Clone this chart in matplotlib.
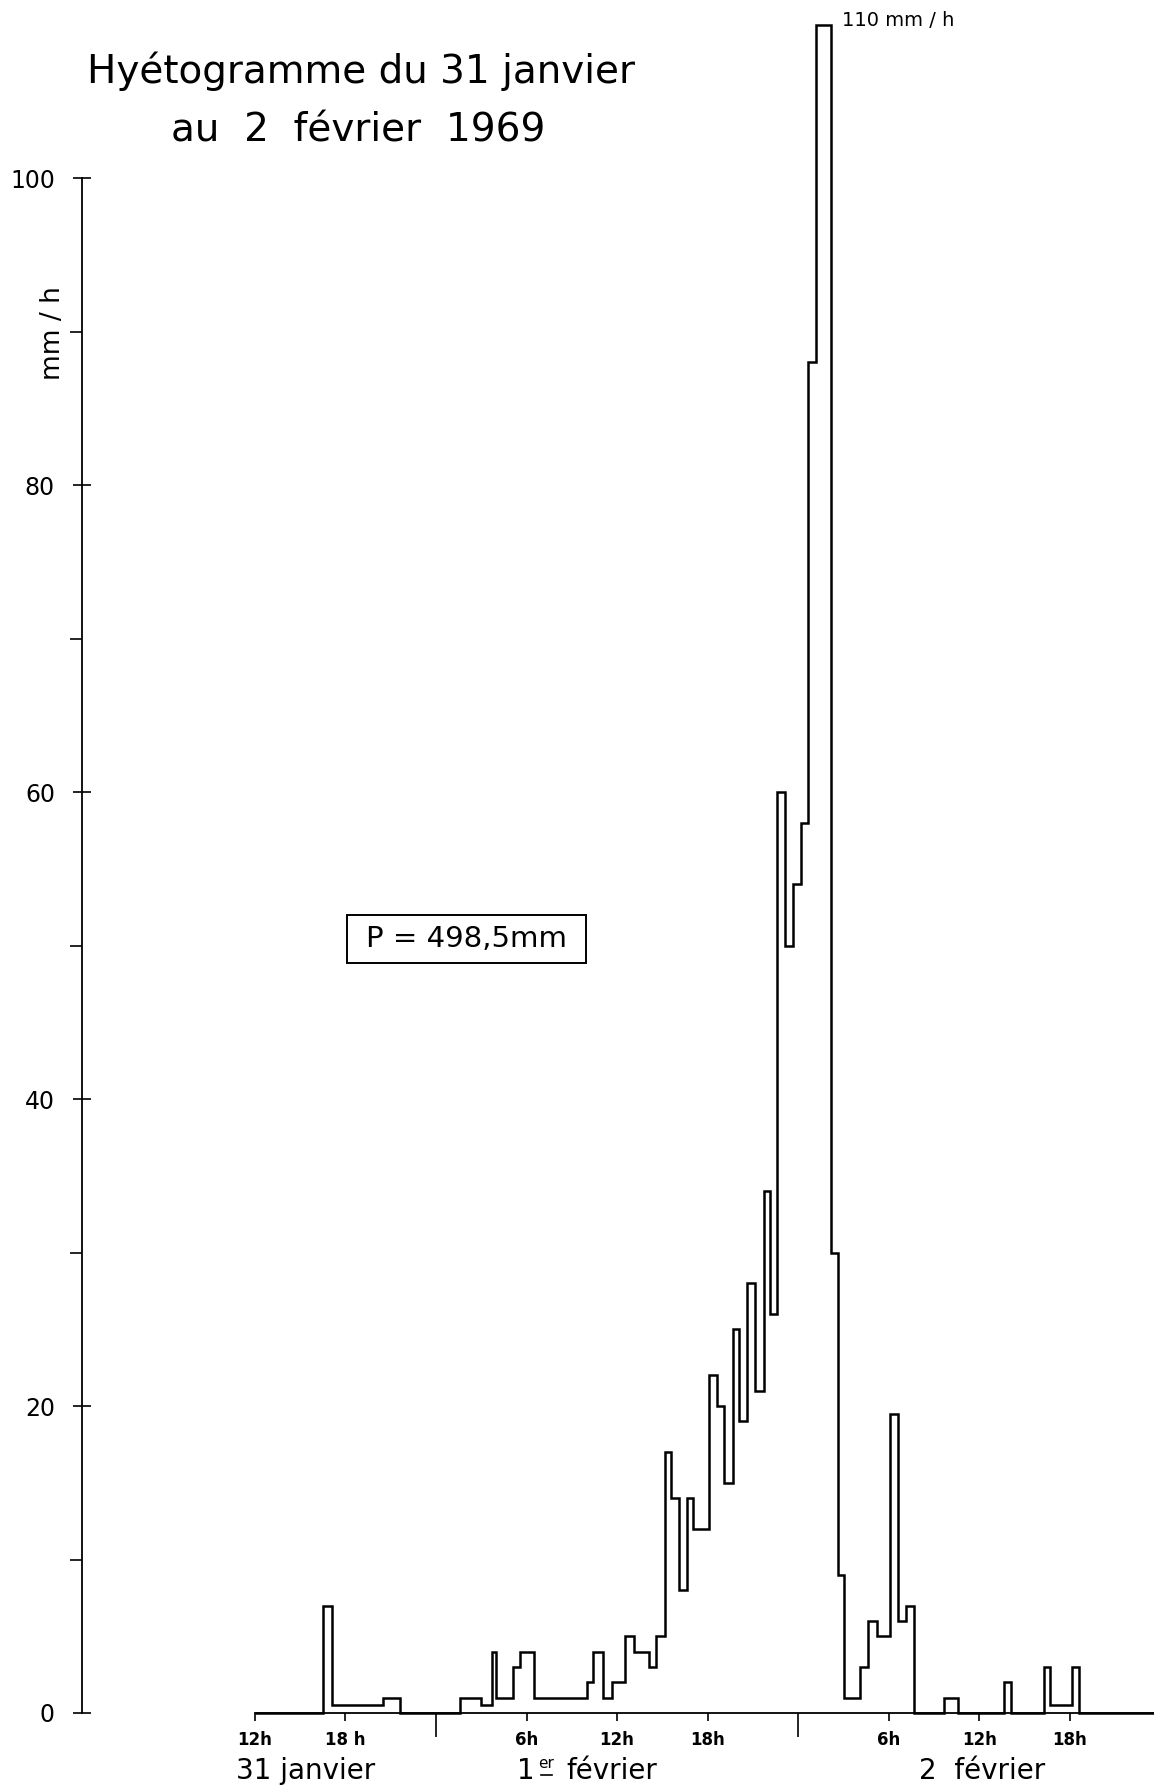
import matplotlib
matplotlib.use("Agg")
import matplotlib.pyplot as plt
import numpy as np
from matplotlib.patches import Rectangle
from matplotlib.lines import Line2D

plt.rcParams["font.family"] = ["DejaVu Sans"]

# hours counted from 31 janvier 0h ; intensity in mm/h for each step
t_start = [12.0, 16.5, 17.1, 20.5, 21.6, 25.6, 27.0, 27.7, 28.0, 29.1,
           29.55, 30.5, 34.0, 34.4, 35.05, 35.65, 36.55, 37.1, 38.1, 38.6,
           39.15, 39.6, 40.1, 40.6, 41.05, 42.1, 42.6, 43.1, 43.7, 44.1,
           44.6, 45.15, 45.7, 46.1, 46.6, 47.15, 47.65, 48.15, 48.65, 49.2,
           50.2, 50.65, 51.05, 52.1, 52.6, 53.2, 54.1, 54.6, 55.15, 55.65,
           57.65, 58.6, 61.6, 62.1, 64.25, 64.7, 66.15, 66.6]
intensity = [0, 7, 0.5, 1, 0, 1, 0.5, 4, 1, 3,
             4, 1, 2, 4, 1, 2, 5, 4, 3, 5,
             17, 14, 8, 14, 12, 22, 20, 15, 25, 19,
             28, 21, 34, 26, 60, 50, 54, 58, 88, 110,
             30, 9, 1, 3, 6, 5, 19.5, 6, 7, 0,
             1, 0, 2, 0, 3, 0.5, 3, 0]
t_end = 71.56

hour_ticks = [12, 18, 30, 36, 42, 54, 60, 66]
hour_labels = ["12h", "18 h", "6h", "12h", "18h", "6h", "12h", "18h"]
midnight_ticks = [24, 48]
y_major = [0, 20, 40, 60, 80, 100]
y_minor = [10, 30, 50, 70, 90]

W, H = 1154, 1787
fig = plt.figure(figsize=(W / 100, H / 100), dpi=100)
fig.patch.set_facecolor("white")

ax = fig.add_axes([82 / W, (H - 1713) / H, 1 - 82 / W, 1713 / H])
ax.set_xlim(0.56, t_end)
ax.set_ylim(0, 111.6)
ax.patch.set_visible(False)

ax.stairs(intensity, t_start + [t_end], baseline=None, color="black", lw=1.8, clip_on=False)

for s in ["top", "right"]:
    ax.spines[s].set_visible(False)
ax.spines["left"].set_bounds(0, 100)
ax.spines["bottom"].set_bounds(12, t_end)
ax.spines["left"].set_linewidth(1.3)
ax.spines["bottom"].set_linewidth(1.3)

ax.set_yticks(y_major)
ax.set_yticks(y_minor, minor=True)
ax.set_yticklabels([str(v) for v in y_major])
ax.tick_params(axis="y", which="major", direction="inout", length=13, width=1.2,
               labelsize=17, pad=13)
ax.tick_params(axis="y", which="minor", direction="out", length=9, width=1.2)

ax.set_xticks(hour_ticks)
ax.set_xticklabels(hour_labels, fontweight="bold")
ax.set_xticks(midnight_ticks, minor=True)
ax.tick_params(axis="x", which="major", direction="out", length=6, width=1.2,
               labelsize=12, pad=7)
ax.tick_params(axis="x", which="minor", direction="out", length=17, width=1.2)

# titles and annotations
fig.text(361 / W, 1 - 83 / H, "Hyétogramme du 31 janvier", ha="center", va="baseline", fontsize=28)
fig.text(358 / W, 1 - 142 / H, "au  2  février  1969", ha="center", va="baseline", fontsize=28)
fig.text(53 / W, 1 - 333 / H, "mm / h", rotation=90, ha="center", va="center", fontsize=19)
fig.text(842 / W, 1 - 20 / H, "110 mm / h", ha="left", va="center", fontsize=14)

fig.add_artist(Rectangle((347 / W, 1 - 963 / H), (586 - 347) / W, 48 / H,
                         transform=fig.transFigure, fill=False, lw=1.4, ec="black"))
fig.text(466 / W, 1 - 939 / H, "P = 498,5mm", ha="center", va="center", fontsize=21)

# day names under the time axis
fig.text(306 / W, 1 - 1779 / H, "31 janvier", ha="center", va="baseline", fontsize=20)
fig.text(517 / W, 1 - 1779 / H, "1", ha="left", va="baseline", fontsize=20)
fig.text(538 / W, 1 - 1768 / H, "er", ha="left", va="baseline", fontsize=11)
fig.add_artist(Line2D([541 / W, 552 / W], [1 - 1775 / H, 1 - 1775 / H],
                      transform=fig.transFigure, color="black", lw=1.2))
fig.text(566 / W, 1 - 1779 / H, "février", ha="left", va="baseline", fontsize=20)
fig.text(982 / W, 1 - 1779 / H, "2  février", ha="center", va="baseline", fontsize=20)

fig.savefig("out.png", dpi=100, facecolor="white")
